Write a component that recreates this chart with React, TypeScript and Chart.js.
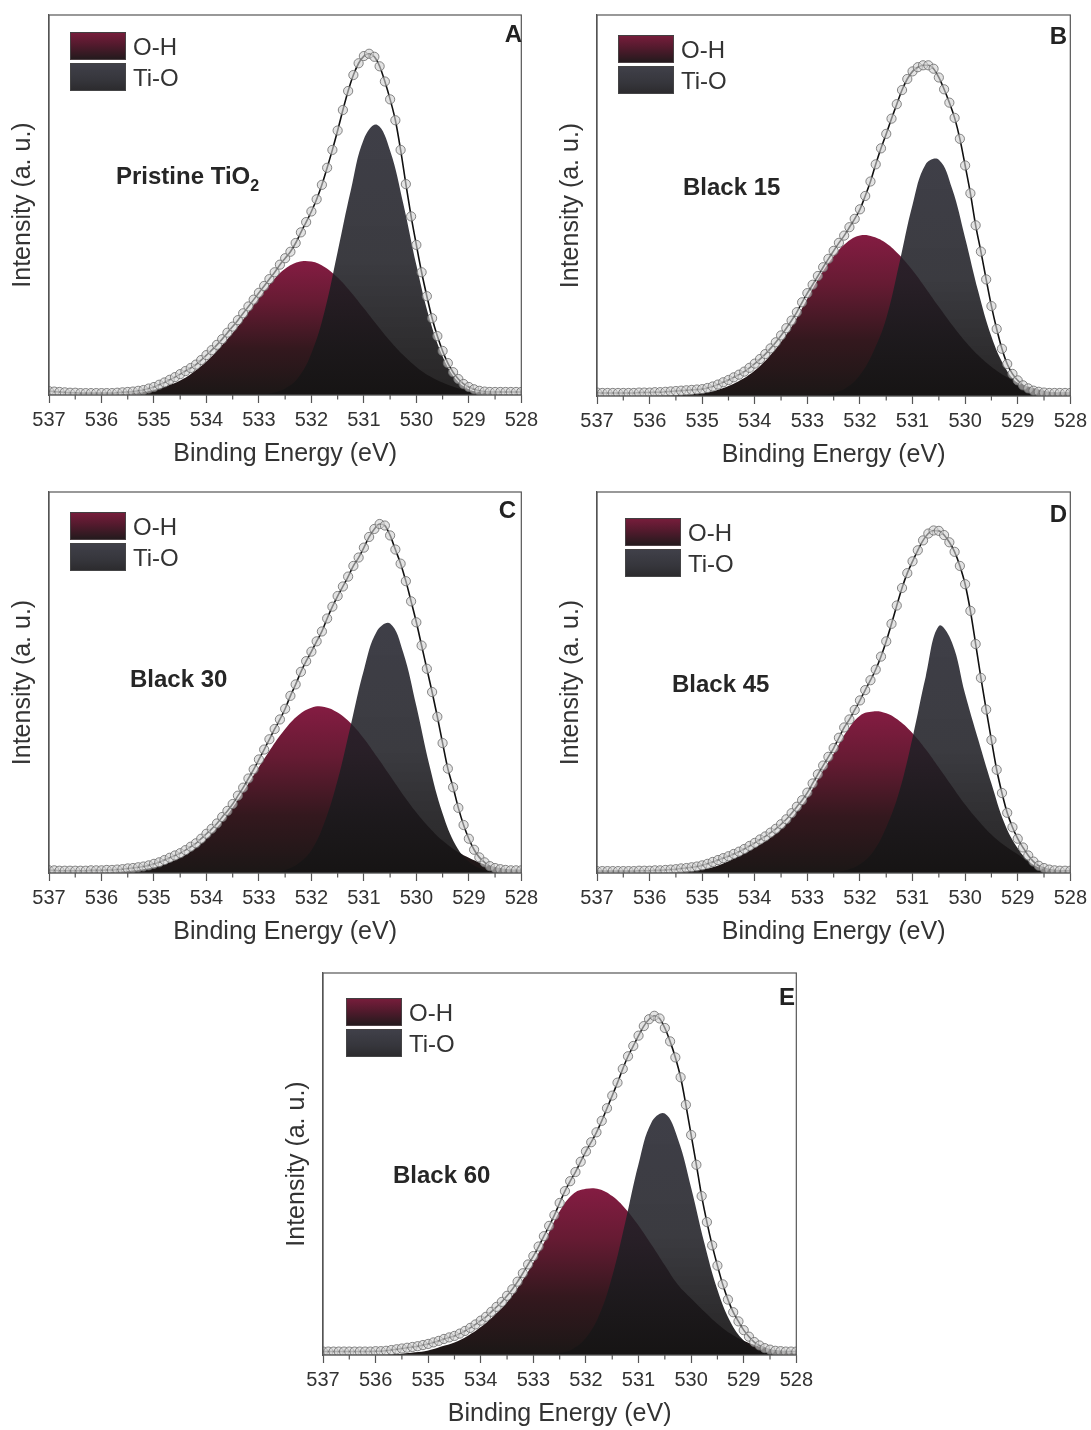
import React, { useEffect, useRef } from "react";
import { Chart, registerables } from "chart.js";

Chart.register(...registerables);

const FONT = "'Liberation Sans', Arial, Helvetica, sans-serif";
Chart.defaults.font.family = FONT;

// ---- energy grids (eV) ----
const componentEnergy = [
  537, 536.75, 536.5, 536.25, 536, 535.75, 535.5, 535.25, 535, 534.75, 534.5, 534.25, 534,
  533.75, 533.5, 533.25, 533, 532.75, 532.5, 532.25, 532, 531.75, 531.5, 531.25, 531,
  530.75, 530.5, 530.25, 530, 529.75, 529.5, 529.25, 529, 528.75, 528.5, 528.25, 528,
];

const measuredEnergy = [
  537.0, 536.9, 536.8, 536.7, 536.6, 536.5, 536.4, 536.3, 536.2, 536.1,
  536.0, 535.9, 535.8, 535.7, 535.6, 535.5, 535.4, 535.3, 535.2, 535.1,
  535.0, 534.9, 534.8, 534.7, 534.6, 534.5, 534.4, 534.3, 534.2, 534.1,
  534.0, 533.9, 533.8, 533.7, 533.6, 533.5, 533.4, 533.3, 533.2, 533.1,
  533.0, 532.9, 532.8, 532.7, 532.6, 532.5, 532.4, 532.3, 532.2, 532.1,
  532.0, 531.9, 531.8, 531.7, 531.6, 531.5, 531.4, 531.3, 531.2, 531.1,
  531.0, 530.9, 530.8, 530.7, 530.6, 530.5, 530.4, 530.3, 530.2, 530.1,
  530.0, 529.9, 529.8, 529.7, 529.6, 529.5, 529.4, 529.3, 529.2, 529.1,
  529.0, 528.9, 528.8, 528.7, 528.6, 528.5, 528.4, 528.3, 528.2, 528.1,
  528.0,
];

const minorTickEnergy = [536.5, 535.5, 534.5, 533.5, 532.5, 531.5, 530.5, 529.5, 528.5];

// ---- Panel A: Pristine TiO2 ----
const ohA = [0, 0, 0, 0.05, 0.1, 0.2, 0.4, 0.8, 1.4, 2.4, 3.8, 6.0, 8.8, 12.4, 16.3, 20.8, 25.5, 29.8, 33.2, 35.0, 35.1, 33.7, 30.9, 27.1, 22.8, 18.4, 14.2, 10.5, 7.4, 5.0, 3.3, 2.0, 1.2, 0.7, 0.4, 0.2, 0.1];
const tioA = [0, 0, 0, 0, 0, 0, 0, 0, 0, 0, 0, 0, 0, 0, 0, 0, 0.1, 0.5, 1.7, 4.6, 11.0, 22.0, 37.7, 53.8, 67.4, 71.1, 64.3, 50.4, 34.2, 20.1, 10.2, 4.2, 1.5, 0.5, 0.1, 0, 0];
const envA = [
  1.0, 0.9, 0.8, 0.7, 0.6, 0.6, 0.5, 0.5, 0.5, 0.5,
  0.5, 0.5, 0.5, 0.6, 0.7, 0.8, 0.9, 1.1, 1.3, 1.7,
  2.1, 2.7, 3.3, 4.0, 4.7, 5.5, 6.3, 7.1, 8.0, 9.2,
  10.5, 11.8, 13.2, 14.7, 16.4, 18.0, 19.7, 21.5, 23.3, 25.1,
  26.9, 28.7, 30.5, 32.3, 34.3, 36.0, 37.7, 40.0, 42.8, 45.5,
  48.3, 51.5, 55.3, 59.8, 64.5, 69.6, 75.0, 80.0, 84.2, 87.3,
  89.2, 89.8, 89.0, 86.5, 82.5, 77.8, 72.3, 64.5, 55.5, 47.0,
  39.5, 32.3, 26.0, 20.2, 15.5, 11.6, 8.4, 6.0, 4.2, 2.9,
  2.1, 1.5, 1.1, 0.9, 0.8, 0.8, 0.8, 0.8, 0.8, 0.8,
  0.8,
];

// ---- Panel B: Black 15 ----
const ohB = [0, 0, 0, 0, 0, 0.1, 0.2, 0.4, 0.8, 1.4, 2.6, 4.3, 6.7, 10.0, 14.2, 19.3, 25.6, 31.7, 36.7, 40.3, 42.1, 41.8, 40.1, 37.0, 33.0, 28.3, 23.4, 18.7, 14.4, 10.7, 7.7, 5.3, 3.5, 2.3, 1.4, 0.8, 0.5];
const tioB = [0, 0, 0, 0, 0, 0, 0, 0, 0, 0, 0, 0, 0, 0, 0, 0, 0, 0.3, 0.8, 2.2, 5.5, 11.5, 20.4, 34.9, 50.2, 60.8, 62.0, 54.5, 41.5, 27.4, 15.6, 7.7, 3.3, 1.2, 0.4, 0.1, 0];
const envB = [
  0.9, 0.8, 0.8, 0.8, 0.8, 0.8, 0.8, 0.8, 0.9, 0.9,
  0.9, 1.0, 1.0, 1.1, 1.2, 1.3, 1.4, 1.5, 1.6, 1.7,
  1.8, 2.1, 2.5, 3.0, 3.6, 4.2, 4.9, 5.6, 6.4, 7.4,
  8.5, 9.7, 11.0, 12.5, 14.1, 15.9, 17.8, 19.8, 22.0, 24.6,
  27.0, 29.2, 31.5, 33.8, 36.0, 38.1, 40.2, 42.1, 44.3, 46.5,
  49.0, 52.5, 56.3, 60.8, 65.0, 68.8, 72.8, 76.6, 80.3, 83.2,
  85.2, 86.3, 86.8, 86.8, 85.9, 83.6, 80.5, 77.0, 73.0, 67.5,
  60.5, 53.2, 44.8, 37.9, 30.6, 23.6, 17.6, 12.4, 8.4, 5.8,
  4.1, 2.8, 2.0, 1.4, 1.1, 0.9, 0.8, 0.8, 0.8, 0.8,
  0.8,
];

// ---- Panel C: Black 30 ----
const ohC = [0, 0, 0, 0.05, 0.15, 0.3, 0.5, 0.9, 1.5, 2.5, 4.0, 6.1, 9.0, 12.7, 17.2, 22.4, 27.8, 33.1, 37.8, 41.4, 43.4, 43.6, 42.1, 39.3, 35.3, 30.5, 25.5, 20.5, 15.9, 11.9, 8.5, 5.9, 4.0, 2.5, 1.6, 1.0, 0.6];
const tioC = [0, 0, 0, 0, 0, 0, 0, 0, 0, 0, 0, 0, 0, 0, 0, 0, 0, 0.2, 0.8, 2.5, 6.0, 13.3, 24.4, 38.8, 53.3, 63.5, 65.5, 57.9, 43.8, 28.2, 15.6, 7.3, 3.0, 1.0, 0.3, 0.1, 0];
const envC = [
  0.7, 0.7, 0.6, 0.6, 0.6, 0.6, 0.6, 0.6, 0.7, 0.7,
  0.7, 0.8, 0.8, 0.9, 1.0, 1.2, 1.3, 1.5, 1.7, 2.0,
  2.4, 2.8, 3.4, 4.0, 4.6, 5.2, 6.0, 6.9, 7.8, 9.0,
  10.3, 11.6, 13.0, 14.7, 16.3, 18.1, 20.3, 22.4, 24.8, 27.2,
  29.8, 32.4, 35.1, 37.8, 40.3, 43.1, 46.5, 49.5, 52.8, 55.6,
  58.1, 60.8, 63.4, 66.8, 69.9, 72.7, 75.2, 77.8, 80.6, 82.8,
  85.4, 88.2, 90.3, 91.6, 91.2, 88.6, 84.9, 81.2, 76.6, 71.3,
  65.8, 59.7, 53.6, 47.5, 41.0, 34.1, 27.4, 22.5, 17.1, 12.6,
  9.0, 6.1, 4.1, 2.8, 1.8, 1.3, 1.0, 0.8, 0.7, 0.7,
  0.7,
];

// ---- Panel D: Black 45 ----
const ohD = [0, 0, 0, 0, 0, 0.1, 0.25, 0.5, 0.9, 1.7, 3.1, 4.7, 6.6, 8.8, 11.5, 15.3, 19.8, 25.8, 31.3, 37.2, 41.3, 42.4, 41.9, 39.9, 36.7, 32.5, 27.7, 22.8, 18.0, 13.8, 10.1, 7.2, 4.9, 2.4, 1.1, 0.6, 0.3];
const tioD = [0, 0, 0, 0, 0, 0, 0, 0, 0, 0, 0, 0, 0, 0, 0, 0, 0, 0, 0.2, 0.8, 2.3, 5.6, 12.0, 21.5, 35.5, 51.5, 64.8, 60.5, 47.0, 35.0, 23.5, 13.0, 6.5, 2.6, 0.8, 0.2, 0];
const envD = [
  0.5, 0.5, 0.5, 0.5, 0.5, 0.5, 0.5, 0.5, 0.6, 0.6,
  0.6, 0.7, 0.7, 0.8, 0.9, 1.0, 1.2, 1.3, 1.5, 1.7,
  2.0, 2.4, 2.9, 3.4, 3.9, 4.4, 5.0, 5.6, 6.3, 7.1,
  7.9, 8.8, 9.6, 10.6, 11.6, 12.8, 14.1, 15.7, 17.4, 19.1,
  21.1, 23.5, 25.9, 28.2, 30.5, 32.8, 35.5, 38.2, 40.3, 42.8,
  45.3, 48.0, 50.6, 53.4, 56.8, 60.8, 65.4, 70.2, 74.8, 78.7,
  81.8, 84.7, 87.3, 89.1, 89.9, 89.8, 88.7, 86.8, 84.3, 80.6,
  75.8, 68.8, 60.1, 51.2, 42.9, 34.9, 27.1, 21.0, 15.8, 12.0,
  9.0, 6.7, 4.6, 3.0, 1.9, 1.3, 0.9, 0.7, 0.6, 0.6,
  0.6,
];

// ---- Panel E: Black 60 ----
const ohE = [0, 0, 0, 0, 0.05, 0.15, 0.35, 0.7, 1.2, 2.25, 3.3, 5.0, 7.3, 10.3, 13.8, 18.6, 24.2, 30.7, 37.6, 42.1, 43.5, 43.4, 41.6, 38.3, 33.9, 28.8, 23.5, 18.4, 14.8, 11.4, 8.2, 5.6, 3.7, 2.4, 1.3, 0.8, 0.5];
const tioE = [0, 0, 0, 0, 0, 0, 0, 0, 0, 0, 0, 0, 0, 0, 0, 0, 0, 0.1, 0.5, 1.6, 4.5, 10.4, 20.7, 34.9, 50.0, 61.0, 63.2, 56.5, 43.8, 29.4, 17.1, 8.6, 3.8, 1.4, 0.5, 0.1, 0];
const envE = [
  0.9, 0.9, 0.9, 0.9, 0.9, 0.9, 0.9, 0.9, 0.9, 0.9,
  1.0, 1.0, 1.1, 1.3, 1.5, 1.7, 1.9, 2.1, 2.3, 2.6,
  2.9, 3.3, 3.7, 4.2, 4.6, 5.0, 5.6, 6.3, 7.1, 8.0,
  9.0, 10.0, 11.3, 12.6, 13.9, 15.5, 17.2, 19.2, 21.4, 23.7,
  25.9, 28.4, 31.1, 33.8, 36.6, 39.8, 42.9, 45.5, 47.9, 50.6,
  53.3, 55.7, 58.3, 61.3, 64.6, 67.9, 71.3, 74.9, 78.2, 80.9,
  83.6, 86.1, 87.9, 88.8, 88.1, 85.6, 82.1, 77.9, 72.7, 65.5,
  57.6, 49.8, 41.6, 34.8, 28.7, 23.4, 18.5, 14.5, 11.2, 8.8,
  6.5, 4.8, 3.4, 2.5, 1.8, 1.4, 1.1, 1.0, 0.9, 0.9,
  0.9,
];

const componentLabels = ["O-H", "Ti-O"];
const xAxisTitle = "Binding Energy (eV)";
const yAxisTitle = "Intensity (a. u.)";

// ---- helpers ----
const toPoints = (xs: number[], ys: number[]) => xs.map((x, i) => ({ x, y: ys[i] }));

function verticalGradient(stops: [number, string][], values: number[]) {
  return (context: any) => {
    const chart = context.chart;
    const area = chart.chartArea;
    if (!area) return stops[stops.length - 1][1];
    const y = chart.scales.y;
    const top = y.getPixelForValue(Math.max(...values));
    const bottom = y.getPixelForValue(0);
    const g = chart.ctx.createLinearGradient(0, top, 0, bottom);
    stops.forEach(([o, c]) => g.addColorStop(o, c));
    return g;
  };
}

const OH_STOPS: [number, string][] = [
  [0, "rgb(132,28,66)"],
  [0.3, "rgb(102,27,51)"],
  [0.65, "rgb(52,24,30)"],
  [1, "rgb(27,23,22)"],
];
const TIO_STOPS: [number, string][] = [
  [0, "rgba(34,34,44,0.87)"],
  [0.5, "rgba(32,32,38,0.88)"],
  [1, "rgba(22,20,20,0.93)"],
];

const framePlugin = {
  id: "frameAndMinor",
  afterDraw(chart: any) {
    const { ctx, chartArea: a, scales } = chart;
    const x = scales.x;
    ctx.save();
    ctx.strokeStyle = "#555";
    ctx.lineWidth = 1.2;
    ctx.strokeRect(a.left, a.top, a.right - a.left, a.bottom - a.top);
    minorTickEnergy.forEach((v) => {
      const px = x.getPixelForValue(v);
      ctx.beginPath();
      ctx.moveTo(px, a.bottom);
      ctx.lineTo(px, a.bottom + 4.5);
      ctx.stroke();
    });
    ctx.restore();
  },
};

type Rect = { left: number; top: number; right: number; bottom: number };
type PanelProps = {
  letter: string;
  label: string;
  sub?: string;
  oh: number[];
  tio: number[];
  env: number[];
  plot: Rect;
  legend: { dx: number; dy: number };
  labelPos: { dx: number; dy: number };
  letterPos: { inset: number; dy: number };
};

const Y_AXIS_W = 49;
const X_AXIS_H = 75;
const PAD_TOP = 15;
const PAD_RIGHT = 18;

function Txt(props: {
  x: number;
  baseline: number;
  size: number;
  bold?: boolean;
  color?: string;
  alignRight?: boolean;
  children: React.ReactNode;
}) {
  const { x, baseline, size, bold, color, alignRight, children } = props;
  const top = baseline - 0.8465 * size;
  const style: React.CSSProperties = {
    position: "absolute",
    top,
    fontFamily: FONT,
    fontSize: size,
    lineHeight: `${size}px`,
    fontWeight: bold ? 700 : 400,
    color: color || "#333",
    whiteSpace: "nowrap",
  };
  if (alignRight) {
    style.left = x - 80;
    style.width = 80;
    style.textAlign = "right";
  } else {
    style.left = x;
  }
  return <div style={style}>{children}</div>;
}

function Panel(p: PanelProps) {
  const ref = useRef<HTMLCanvasElement>(null);
  const cl = p.plot.left - Y_AXIS_W;
  const ct = p.plot.top - PAD_TOP;
  const cw = p.plot.right - cl + PAD_RIGHT;
  const ch = p.plot.bottom + X_AXIS_H - ct;

  useEffect(() => {
    if (!ref.current) return;
    const chart = new Chart(ref.current, {
      type: "line",
      data: {
        datasets: [
          {
            label: "Data",
            data: toPoints(measuredEnergy, p.env),
            showLine: false,
            pointRadius: 4.6,
            pointBackgroundColor: "rgba(208,208,208,0.6)",
            pointBorderColor: "rgba(105,105,105,0.8)",
            pointBorderWidth: 1,
            order: 0,
          } as any,
          {
            label: "Envelope",
            data: toPoints(measuredEnergy, p.env),
            borderColor: "#111",
            borderWidth: 1.6,
            pointRadius: 0,
            cubicInterpolationMode: "monotone",
            fill: false,
            order: 1,
          },
          {
            label: componentLabels[1],
            data: toPoints(componentEnergy, p.tio),
            borderWidth: 0,
            borderColor: "rgba(0,0,0,0)",
            pointRadius: 0,
            tension: 0.4,
            fill: "origin",
            backgroundColor: verticalGradient(TIO_STOPS, p.tio),
            order: 2,
          },
          {
            label: componentLabels[0],
            data: toPoints(componentEnergy, p.oh),
            borderWidth: 0,
            borderColor: "rgba(0,0,0,0)",
            pointRadius: 0,
            tension: 0.4,
            fill: "origin",
            backgroundColor: verticalGradient(OH_STOPS, p.oh),
            order: 3,
          },
        ],
      },
      options: {
        animation: false,
        responsive: false,
        devicePixelRatio: 1,
        layout: { padding: { left: 0, top: PAD_TOP, right: PAD_RIGHT, bottom: 0 } },
        plugins: {
          legend: { display: false },
          tooltip: { enabled: false },
        },
        scales: {
          x: {
            type: "linear",
            reverse: true,
            min: 528,
            max: 537,
            ticks: {
              stepSize: 1,
              autoSkip: false,
              maxRotation: 0,
              padding: 5,
              color: "#333",
              font: { size: 20, family: FONT },
              callback: (v: any) => String(v),
            },
            grid: {
              display: true,
              drawOnChartArea: false,
              drawTicks: true,
              tickLength: 8,
              color: "#555",
              tickColor: "#555",
              tickWidth: 1.2,
            },
            border: { display: true, color: "#555", width: 1.2 },
            title: {
              display: true,
              text: xAxisTitle,
              color: "#333",
              font: { size: 25, family: FONT },
              padding: { top: 0, bottom: 1 },
            },
            afterFit: (s: any) => {
              s.height = X_AXIS_H;
            },
          },
          y: {
            min: 0,
            max: 100,
            ticks: { display: false },
            grid: { display: false },
            border: { display: true, color: "#555", width: 1.2 },
            title: {
              display: true,
              text: yAxisTitle,
              color: "#333",
              font: { size: 25, family: FONT },
              padding: { top: 8, bottom: 0 },
            },
            afterFit: (s: any) => {
              s.width = Y_AXIS_W;
            },
          },
        },
      } as any,
      plugins: [framePlugin],
    });
    return () => chart.destroy();
  }, []);

  const lx = p.plot.left + p.legend.dx;
  const ly = p.plot.top + p.legend.dy;
  const boxW = 56;
  const boxH = 28;
  const boxBase: React.CSSProperties = {
    position: "absolute",
    width: boxW,
    height: boxH,
    boxSizing: "border-box",
    border: "1px solid rgba(70,70,70,0.85)",
  };

  return (
    <>
      <canvas
        ref={ref}
        width={cw}
        height={ch}
        style={{ position: "absolute", left: cl, top: ct, width: cw, height: ch }}
      />
      <div
        style={{
          ...boxBase,
          left: lx,
          top: ly,
          background: "linear-gradient(to bottom, #761d3b 0%, #531a2d 45%, #241a1d 100%)",
        }}
      />
      <div
        style={{
          ...boxBase,
          left: lx,
          top: ly + 31,
          background: "linear-gradient(to bottom, #404049 0%, #36363c 60%, #2c2b2e 100%)",
        }}
      />
      <Txt x={lx + 63} baseline={ly + 23.5} size={24}>
        {componentLabels[0]}
      </Txt>
      <Txt x={lx + 63} baseline={ly + 31 + 23} size={24}>
        {componentLabels[1]}
      </Txt>
      <Txt x={p.plot.left + p.labelPos.dx} baseline={p.plot.top + p.labelPos.dy} size={24} bold color="#262626">
        {p.label}
        {p.sub ? (
          <span style={{ fontSize: 16, position: "relative", top: 7 }}>{p.sub}</span>
        ) : null}
      </Txt>
      <Txt
        x={p.plot.right - p.letterPos.inset}
        baseline={p.plot.top + p.letterPos.dy}
        size={24}
        bold
        color="#222"
        alignRight
      >
        {p.letter}
      </Txt>
    </>
  );
}

export default function App() {
  return (
    <div
      style={{
        position: "absolute",
        left: 0,
        top: 0,
        width: 1091,
        height: 1430,
        overflow: "hidden",
        background: "#fff",
      }}
    >
      <Panel
        letter="A"
        label="Pristine TiO"
        sub="2"
        oh={ohA}
        tio={tioA}
        env={envA}
        plot={{ left: 49, top: 15, right: 525, bottom: 395 }}
        legend={{ dx: 21, dy: 17 }}
        labelPos={{ dx: 67, dy: 169 }}
        letterPos={{ inset: 3, dy: 27 }}
      />
      <Panel
        letter="B"
        label="Black 15"
        oh={ohB}
        tio={tioB}
        env={envB}
        plot={{ left: 597, top: 15, right: 1074, bottom: 396 }}
        legend={{ dx: 21, dy: 20 }}
        labelPos={{ dx: 86, dy: 180 }}
        letterPos={{ inset: 7, dy: 29 }}
      />
      <Panel
        letter="C"
        label="Black 30"
        oh={ohC}
        tio={tioC}
        env={envC}
        plot={{ left: 49, top: 492, right: 525, bottom: 873 }}
        legend={{ dx: 21, dy: 20 }}
        labelPos={{ dx: 81, dy: 195 }}
        letterPos={{ inset: 9, dy: 26 }}
      />
      <Panel
        letter="D"
        label="Black 45"
        oh={ohD}
        tio={tioD}
        env={envD}
        plot={{ left: 597, top: 492, right: 1074, bottom: 873 }}
        legend={{ dx: 28, dy: 26 }}
        labelPos={{ dx: 75, dy: 200 }}
        letterPos={{ inset: 7, dy: 30 }}
      />
      <Panel
        letter="E"
        label="Black 60"
        oh={ohE}
        tio={tioE}
        env={envE}
        plot={{ left: 323, top: 973, right: 800, bottom: 1355 }}
        legend={{ dx: 23, dy: 25 }}
        labelPos={{ dx: 70, dy: 210 }}
        letterPos={{ inset: 5, dy: 32 }}
      />
    </div>
  );
}
